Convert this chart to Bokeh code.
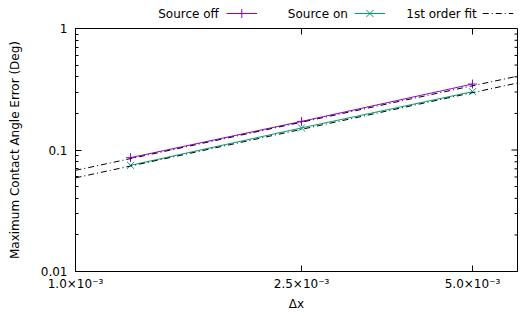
import math
from bokeh.plotting import figure
from bokeh.layouts import column
from bokeh.models import FixedTicker, Range1d
from bokeh.core.properties import value
from bokeh.embed import file_html
from bokeh.resources import INLINE

# ---- data ----
dx = [1.25e-3, 2.5e-3, 5.0e-3]
err_source_off = [0.0865, 0.172, 0.349]
err_source_on = [0.0748, 0.152, 0.302]
fit_dx = [1.0e-3, 6.0e-3]
fit_source_off = [0.068, 0.405]
fit_source_on = [0.059, 0.356]

series_names = ["Source off", "Source on", "1st order fit"]
x_ticks = [1.0e-3, 2.5e-3, 5.0e-3]
x_tick_labels = ["1.0×10⁻³", "2.5×10⁻³", "5.0×10⁻³"]
y_ticks = [0.01, 0.1, 1.0]
y_tick_labels = ["0.01", "0.1", "1"]
y_minor_ticks = [0.02, 0.03, 0.04, 0.05, 0.06, 0.07, 0.08, 0.09,
                 0.2, 0.3, 0.4, 0.5, 0.6, 0.7, 0.8, 0.9]

X_MIN, X_MAX = 1.0e-3, 6.0e-3
Y_MIN, Y_MAX = 0.01, 1.0

PURPLE = "#9400d3"
GREEN = "#009e73"
FONT = "DejaVu Sans"
FS = "12px"
DASHDOT = "6 3 1 3"

W = 521
KH = 22
PH = 291

# ---- main plot ----
p = figure(width=W, height=PH, x_axis_type="log", y_axis_type="log",
           x_range=Range1d(X_MIN, X_MAX), y_range=Range1d(Y_MIN, Y_MAX),
           output_backend="svg", toolbar_location=None, sizing_mode="fixed",
           min_border_left=75, min_border_right=4, min_border_top=6,
           min_border_bottom=37)
p.grid.visible = False
p.outline_line_color = "black"
p.outline_line_width = 1

def style_axis(ax):
    ax.major_tick_in = 6
    ax.major_tick_out = 0
    ax.minor_tick_in = 3
    ax.minor_tick_out = 0
    ax.axis_line_color = "black"
    ax.major_tick_line_color = "black"
    ax.minor_tick_line_color = "black"
    ax.major_label_text_font = FONT
    ax.major_label_text_font_size = FS
    ax.major_label_text_color = "black"
    ax.axis_label_text_font = FONT
    ax.axis_label_text_font_size = FS
    ax.axis_label_text_font_style = "normal"
    ax.axis_label_text_color = "black"

xa = p.xaxis[0]
xa.ticker = FixedTicker(ticks=x_ticks, minor_ticks=[])
xa.major_label_overrides = dict(zip(x_ticks, x_tick_labels))
xa.axis_label = "Δx"
style_axis(xa)
xa.major_label_standoff = 5
xa.axis_label_standoff = 3

ya = p.yaxis[0]
ya.ticker = FixedTicker(ticks=y_ticks, minor_ticks=y_minor_ticks)
ya.major_label_overrides = dict(zip(y_ticks, y_tick_labels))
ya.axis_label = "Maximum Contact Angle Error (Deg)"
style_axis(ya)
ya.major_label_standoff = 8
ya.axis_label_standoff = 16

# mirrored ticks on the top and right borders (gnuplot style)
p.ray(x=x_ticks, y=[Y_MAX] * len(x_ticks), length=6, angle=-math.pi / 2,
      length_units="screen", line_color="black", line_width=1)
p.ray(x=[X_MAX] * len(y_ticks), y=y_ticks, length=6, angle=math.pi,
      length_units="screen", line_color="black", line_width=1)
p.ray(x=[X_MAX] * len(y_minor_ticks), y=y_minor_ticks, length=3, angle=math.pi,
      length_units="screen", line_color="black", line_width=1)

p.line(dx, err_source_off, line_color=PURPLE, line_width=1)
p.scatter(dx, err_source_off, marker="cross", size=9, line_color=PURPLE, line_width=1)
p.line(dx, err_source_on, line_color=GREEN, line_width=1)
p.scatter(dx, err_source_on, marker="x", size=10, line_color=GREEN, line_width=1)
p.line(fit_dx, fit_source_off, line_color="black", line_width=1, line_dash=DASHDOT)
p.line(fit_dx, fit_source_on, line_color="black", line_width=1, line_dash=DASHDOT)

# ---- key (gnuplot style: text then sample) ----
lf = figure(width=W, height=KH, x_range=Range1d(0, W), y_range=Range1d(0, KH),
            output_backend="svg", toolbar_location=None, sizing_mode="fixed",
            x_axis_location=None, y_axis_location=None,
            min_border=0)
lf.grid.visible = False
lf.outline_line_color = None

text_right = [169, 321, 473]
sample_start = [178, 329, 480]
sample_len = 36
ky = KH - 13
lf.text(x=text_right, y=[ky] * 3, text=series_names, text_align="right",
        text_baseline="middle", text_font=value(FONT), text_font_size=FS,
        text_color="black")
colors = [PURPLE, GREEN, "black"]
dashes = ["solid", "solid", DASHDOT]
for s, c, d in zip(sample_start, colors, dashes):
    lf.line([s, s + sample_len], [ky, ky], line_color=c, line_width=1, line_dash=d)
lf.scatter([sample_start[0] + sample_len / 2], [ky], marker="cross", size=9,
           line_color=PURPLE, line_width=1)
lf.scatter([sample_start[1] + sample_len / 2], [ky], marker="x", size=10,
           line_color=GREEN, line_width=1)

layout = column(lf, p, spacing=0, sizing_mode="fixed", width=W, height=KH + PH)
open("out.html", "w").write(file_html(layout, INLINE))
